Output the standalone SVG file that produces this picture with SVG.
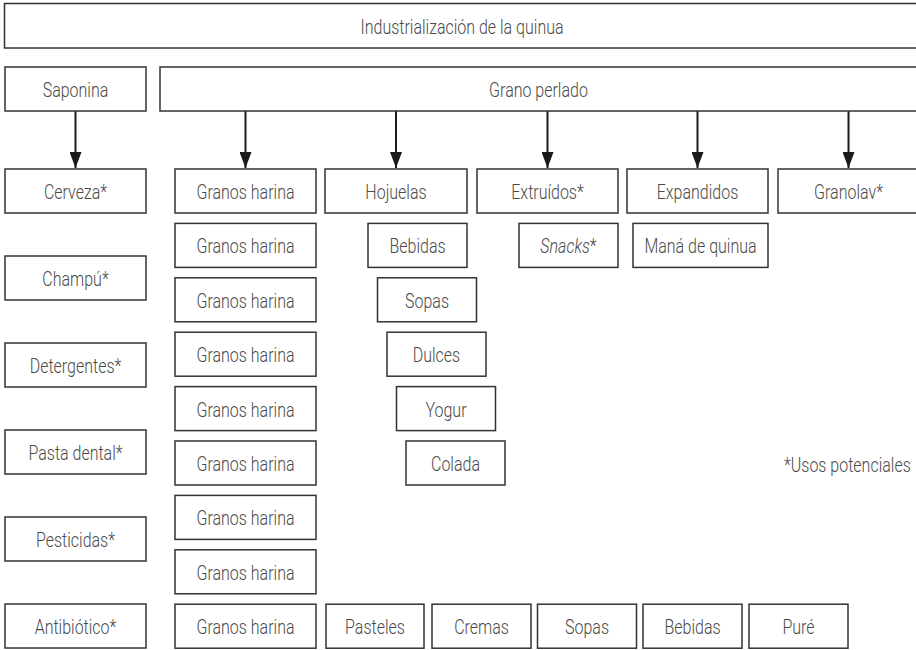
<svg xmlns="http://www.w3.org/2000/svg" width="916" height="650" viewBox="0 0 916 650">
<defs>
<style>
.b{fill:#fff;stroke:#333;stroke-width:1.5}
.t{font-family:Roboto,"Liberation Sans",Arial,sans-serif;font-weight:300;font-size:19.5px;fill:#4a4a4a;text-anchor:middle}
.u{font-family:Roboto,"Liberation Sans",Arial,sans-serif;font-weight:300;font-size:19.5px;fill:#4a4a4a;text-anchor:start}
.c{stroke:#1a1a1a;stroke-width:2;fill:none}
</style>
<marker id="ah" viewBox="0 0 16 12" refX="16" refY="6" markerWidth="16" markerHeight="12" markerUnits="userSpaceOnUse" orient="auto">
<path d="M0,0 L16,6 L0,12 z" fill="#1a1a1a"/>
</marker>
</defs>
<rect width="916" height="650" fill="#fff"/>

<g id="connectors">
<line class="c" x1="75.5" y1="111" x2="75.5" y2="168" marker-end="url(#ah)"/>
<line class="c" x1="245.5" y1="111" x2="245.5" y2="168" marker-end="url(#ah)"/>
<line class="c" x1="396" y1="111" x2="396" y2="168" marker-end="url(#ah)"/>
<line class="c" x1="547.5" y1="111" x2="547.5" y2="168" marker-end="url(#ah)"/>
<line class="c" x1="697.5" y1="111" x2="697.5" y2="168" marker-end="url(#ah)"/>
<line class="c" x1="848.5" y1="111" x2="848.5" y2="168" marker-end="url(#ah)"/>
</g>

<g id="n-title"><rect class="b" x="4.5" y="3.5" width="914" height="44.5"/><text class="t" transform="translate(462 33.5) scale(0.82 1)">Industrialización de la quinua</text></g>
<g id="n-saponina"><rect class="b" x="5" y="67" width="141" height="44"/><text class="t" transform="translate(75.5 97) scale(0.82 1)">Saponina</text></g>
<g id="n-grano"><rect class="b" x="160" y="67" width="758" height="44"/><text class="t" transform="translate(538.5 97) scale(0.82 1)">Grano perlado</text></g>

<g id="n-cerveza"><rect class="b" x="5" y="169" width="141" height="44"/><text class="t" transform="translate(75.5 199) scale(0.82 1)">Cerveza*</text></g>
<g id="n-champu"><rect class="b" x="5" y="256" width="141" height="44"/><text class="t" transform="translate(75.5 286) scale(0.82 1)">Champú*</text></g>
<g id="n-detergentes"><rect class="b" x="5" y="343" width="141" height="44"/><text class="t" transform="translate(75.5 373) scale(0.82 1)">Detergentes*</text></g>
<g id="n-pasta"><rect class="b" x="5" y="430" width="141" height="44"/><text class="t" transform="translate(75.5 460) scale(0.82 1)">Pasta dental*</text></g>
<g id="n-pesticidas"><rect class="b" x="5" y="517" width="141" height="44"/><text class="t" transform="translate(75.5 547) scale(0.82 1)">Pesticidas*</text></g>
<g id="n-antibiotico"><rect class="b" x="5" y="604" width="141" height="44"/><text class="t" transform="translate(75.5 634) scale(0.82 1)">Antibiótico*</text></g>

<g id="n-gh1"><rect class="b" x="175" y="169" width="141" height="44"/><text class="t" transform="translate(245.5 199) scale(0.82 1)">Granos harina</text></g>
<g id="n-gh2"><rect class="b" x="175" y="223.4" width="141" height="44"/><text class="t" transform="translate(245.5 253.4) scale(0.82 1)">Granos harina</text></g>
<g id="n-gh3"><rect class="b" x="175" y="277.8" width="141" height="44"/><text class="t" transform="translate(245.5 307.8) scale(0.82 1)">Granos harina</text></g>
<g id="n-gh4"><rect class="b" x="175" y="332.2" width="141" height="44"/><text class="t" transform="translate(245.5 362.2) scale(0.82 1)">Granos harina</text></g>
<g id="n-gh5"><rect class="b" x="175" y="386.6" width="141" height="44"/><text class="t" transform="translate(245.5 416.6) scale(0.82 1)">Granos harina</text></g>
<g id="n-gh6"><rect class="b" x="175" y="441" width="141" height="44"/><text class="t" transform="translate(245.5 471) scale(0.82 1)">Granos harina</text></g>
<g id="n-gh7"><rect class="b" x="175" y="495.4" width="141" height="44"/><text class="t" transform="translate(245.5 525.4) scale(0.82 1)">Granos harina</text></g>
<g id="n-gh8"><rect class="b" x="175" y="549.8" width="141" height="44"/><text class="t" transform="translate(245.5 579.8) scale(0.82 1)">Granos harina</text></g>
<g id="n-gh9"><rect class="b" x="175" y="604.2" width="141" height="44"/><text class="t" transform="translate(245.5 634.2) scale(0.82 1)">Granos harina</text></g>

<g id="n-hojuelas"><rect class="b" x="325" y="169" width="142" height="44"/><text class="t" transform="translate(396 199) scale(0.82 1)">Hojuelas</text></g>
<g id="n-bebidas1"><rect class="b" x="368" y="223.4" width="99" height="44"/><text class="t" transform="translate(417.5 253.4) scale(0.82 1)">Bebidas</text></g>
<g id="n-sopas1"><rect class="b" x="377.5" y="277.8" width="99" height="44"/><text class="t" transform="translate(427 307.8) scale(0.82 1)">Sopas</text></g>
<g id="n-dulces"><rect class="b" x="387" y="332.2" width="99" height="44"/><text class="t" transform="translate(436.5 362.2) scale(0.82 1)">Dulces</text></g>
<g id="n-yogur"><rect class="b" x="396.5" y="386.6" width="99" height="44"/><text class="t" transform="translate(446 416.6) scale(0.82 1)">Yogur</text></g>
<g id="n-colada"><rect class="b" x="406" y="441" width="99" height="44"/><text class="t" transform="translate(455.5 471) scale(0.82 1)">Colada</text></g>

<g id="n-extruidos"><rect class="b" x="477" y="169" width="141" height="44"/><text class="t" transform="translate(547.5 199) scale(0.82 1)">Extruídos*</text></g>
<g id="n-snacks"><rect class="b" x="519" y="223.4" width="99" height="44"/><text class="t" transform="translate(568.5 253.4) scale(0.82 1)"><tspan font-style="italic">Snacks</tspan>*</text></g>

<g id="n-expandidos"><rect class="b" x="627" y="169" width="141" height="44"/><text class="t" transform="translate(697.5 199) scale(0.82 1)">Expandidos</text></g>
<g id="n-mana"><rect class="b" x="633" y="223.4" width="135" height="44"/><text class="t" transform="translate(700.5 253.4) scale(0.82 1)">Maná de quinua</text></g>

<g id="n-granolav"><rect class="b" x="778" y="169" width="141" height="44"/><text class="t" transform="translate(848.5 199) scale(0.82 1)">Granolav*</text></g>

<g id="n-pasteles"><rect class="b" x="326" y="604.2" width="98" height="44"/><text class="t" transform="translate(375 634.2) scale(0.82 1)">Pasteles</text></g>
<g id="n-cremas"><rect class="b" x="432" y="604.2" width="99" height="44"/><text class="t" transform="translate(481.5 634.2) scale(0.82 1)">Cremas</text></g>
<g id="n-sopas2"><rect class="b" x="537.5" y="604.2" width="99" height="44"/><text class="t" transform="translate(587 634.2) scale(0.82 1)">Sopas</text></g>
<g id="n-bebidas2"><rect class="b" x="643" y="604.2" width="99" height="44"/><text class="t" transform="translate(692.5 634.2) scale(0.82 1)">Bebidas</text></g>
<g id="n-pure"><rect class="b" x="749" y="604.2" width="99" height="44"/><text class="t" transform="translate(798.5 634.2) scale(0.82 1)">Puré</text></g>

<g id="note"><text class="u" transform="translate(784 472) scale(0.82 1)">*Usos potenciales</text></g>
</svg>
